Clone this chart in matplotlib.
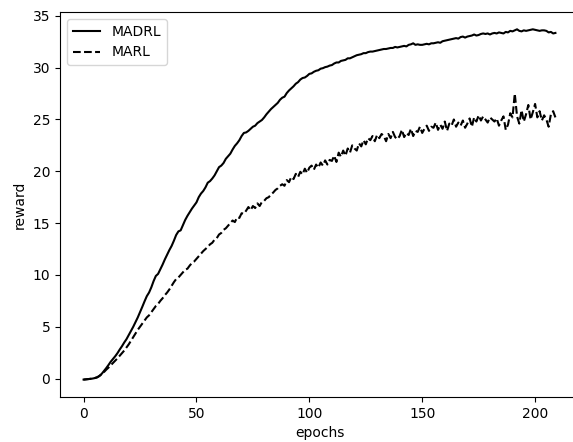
import numpy as np
import matplotlib
matplotlib.use('Agg')
import matplotlib.pyplot as plt

# reward per epoch
madrl = [
    -0.10, -0.08, -0.05, -0.03, 0.00, 0.05, 0.12, 0.25, 0.45, 0.72,
    1.00, 1.30, 1.62, 1.88, 2.15, 2.45, 2.80, 3.12, 3.48, 3.80,
    4.20, 4.58, 5.00, 5.45, 5.90, 6.40, 6.92, 7.45, 7.95, 8.30,
    8.80, 9.40, 9.90, 10.10, 10.55, 11.00, 11.50, 11.95, 12.40, 12.80,
    13.30, 13.85, 14.20, 14.30, 14.80, 15.30, 15.70, 16.05, 16.40, 16.70,
    17.00, 17.50, 17.85, 18.10, 18.45, 18.90, 19.05, 19.30, 19.60, 20.00,
    20.40, 20.55, 20.80, 21.20, 21.45, 21.70, 22.10, 22.45, 22.70, 23.00,
    23.40, 23.70, 23.75, 23.90, 24.10, 24.30, 24.40, 24.65, 24.80, 24.95,
    25.20, 25.50, 25.75, 26.00, 26.20, 26.40, 26.60, 26.90, 27.10, 27.20,
    27.55, 27.80, 28.00, 28.20, 28.45, 28.60, 28.85, 29.00, 29.05, 29.20,
    29.40, 29.45, 29.60, 29.70, 29.75, 29.90, 29.95, 30.05, 30.10, 30.20,
    30.25, 30.40, 30.50, 30.50, 30.65, 30.70, 30.75, 30.90, 30.90, 31.00,
    31.10, 31.20, 31.25, 31.30, 31.40, 31.40, 31.50, 31.55, 31.55, 31.60,
    31.65, 31.70, 31.75, 31.80, 31.80, 31.85, 31.90, 31.90, 32.00, 31.95,
    32.00, 32.05, 32.10, 32.05, 32.20, 32.25, 32.35, 32.20, 32.25, 32.20,
    32.20, 32.25, 32.30, 32.25, 32.35, 32.35, 32.40, 32.45, 32.40, 32.55,
    32.60, 32.65, 32.70, 32.75, 32.80, 32.85, 32.80, 32.95, 33.00, 32.90,
    33.00, 33.05, 33.10, 33.20, 33.10, 33.15, 33.25, 33.30, 33.25, 33.30,
    33.20, 33.30, 33.35, 33.30, 33.40, 33.35, 33.30, 33.45, 33.40, 33.55,
    33.50, 33.60, 33.70, 33.55, 33.50, 33.60, 33.55, 33.60, 33.65, 33.70,
    33.65, 33.60, 33.55, 33.60, 33.60, 33.55, 33.40, 33.45, 33.30, 33.35,
]

marl = [
    -0.10, -0.08, -0.05, -0.03, 0.00, 0.05, 0.12, 0.25, 0.42, 0.62,
    0.85, 1.05, 1.28, 1.50, 1.72, 1.95, 2.20, 2.45, 2.70, 3.00,
    3.30, 3.65, 4.00, 4.35, 4.70, 5.00, 5.30, 5.60, 5.90, 6.10,
    6.40, 6.70, 7.00, 7.20, 7.50, 7.75, 8.05, 8.30, 8.60, 8.95,
    9.30, 9.60, 9.75, 10.00, 10.25, 10.50, 10.60, 10.90, 11.15, 11.30,
    11.55, 11.80, 12.05, 12.30, 12.50, 12.70, 12.95, 13.10, 13.40, 13.55,
    13.90, 14.05, 14.35, 14.50, 14.75, 15.00, 15.25, 15.10, 15.55, 15.50,
    15.95, 15.90, 16.20, 16.55, 16.25, 16.65, 16.45, 16.90, 16.65, 17.05,
    17.15, 17.40, 17.50, 17.75, 17.95, 18.20, 18.35, 18.60, 18.75, 18.60,
    19.15, 18.95, 19.45, 19.25, 19.75, 19.45, 19.95, 19.70, 20.25, 19.85,
    20.35, 20.55, 20.15, 20.65, 20.35, 20.85, 20.55, 21.05, 20.65, 21.10,
    21.00, 21.50, 20.90, 21.80, 21.40, 22.00, 21.50, 22.20, 21.80, 22.50,
    22.20, 22.00, 22.70, 22.40, 23.00, 22.60, 23.20, 23.00, 23.40, 22.90,
    23.50, 23.20, 23.60, 23.40, 22.90, 23.60, 23.20, 23.80, 23.30, 23.10,
    23.40, 24.00, 23.30, 23.70, 23.50, 24.10, 23.40, 23.90, 23.80, 24.30,
    23.70, 24.10, 24.40, 23.90, 24.30, 24.20, 24.70, 24.00, 24.50, 24.10,
    24.80, 23.90, 24.60, 24.40, 25.00, 24.30, 24.70, 24.40, 24.90, 24.20,
    24.60, 25.10, 24.30, 25.20, 24.80, 25.40, 24.90, 25.30, 25.00, 24.70,
    25.20, 25.00, 24.80, 25.10, 24.40, 24.90, 25.30, 24.00, 24.50, 25.60,
    25.20, 27.50, 25.30, 24.60, 25.90, 24.80, 25.50, 26.40, 25.00, 25.70,
    26.50, 25.20, 25.80, 24.90, 25.40, 25.00, 24.30, 25.50, 25.80, 25.20,
]

epochs = np.arange(len(madrl))

fig = plt.figure(figsize=(5.73, 4.42), dpi=100)
# axes runs a bit past the right edge, as in the cropped reference
ax = fig.add_axes([60 / 573, 45 / 442, 519 / 573, 385 / 442])

ax.plot(epochs, madrl, color='black', linestyle='-', label='MADRL')
ax.plot(epochs, marl, color='black', linestyle='--', label='MARL')

ax.set_xlim(-10.45, 219.45)
ax.set_ylim(-1.78, 35.37)
ax.set_xticks([0, 50, 100, 150, 200])
ax.set_yticks([0, 5, 10, 15, 20, 25, 30, 35])
ax.set_xlabel('epochs')
ax.set_ylabel('reward')
ax.legend(loc='upper left')

fig.savefig('out.png', dpi=100)
